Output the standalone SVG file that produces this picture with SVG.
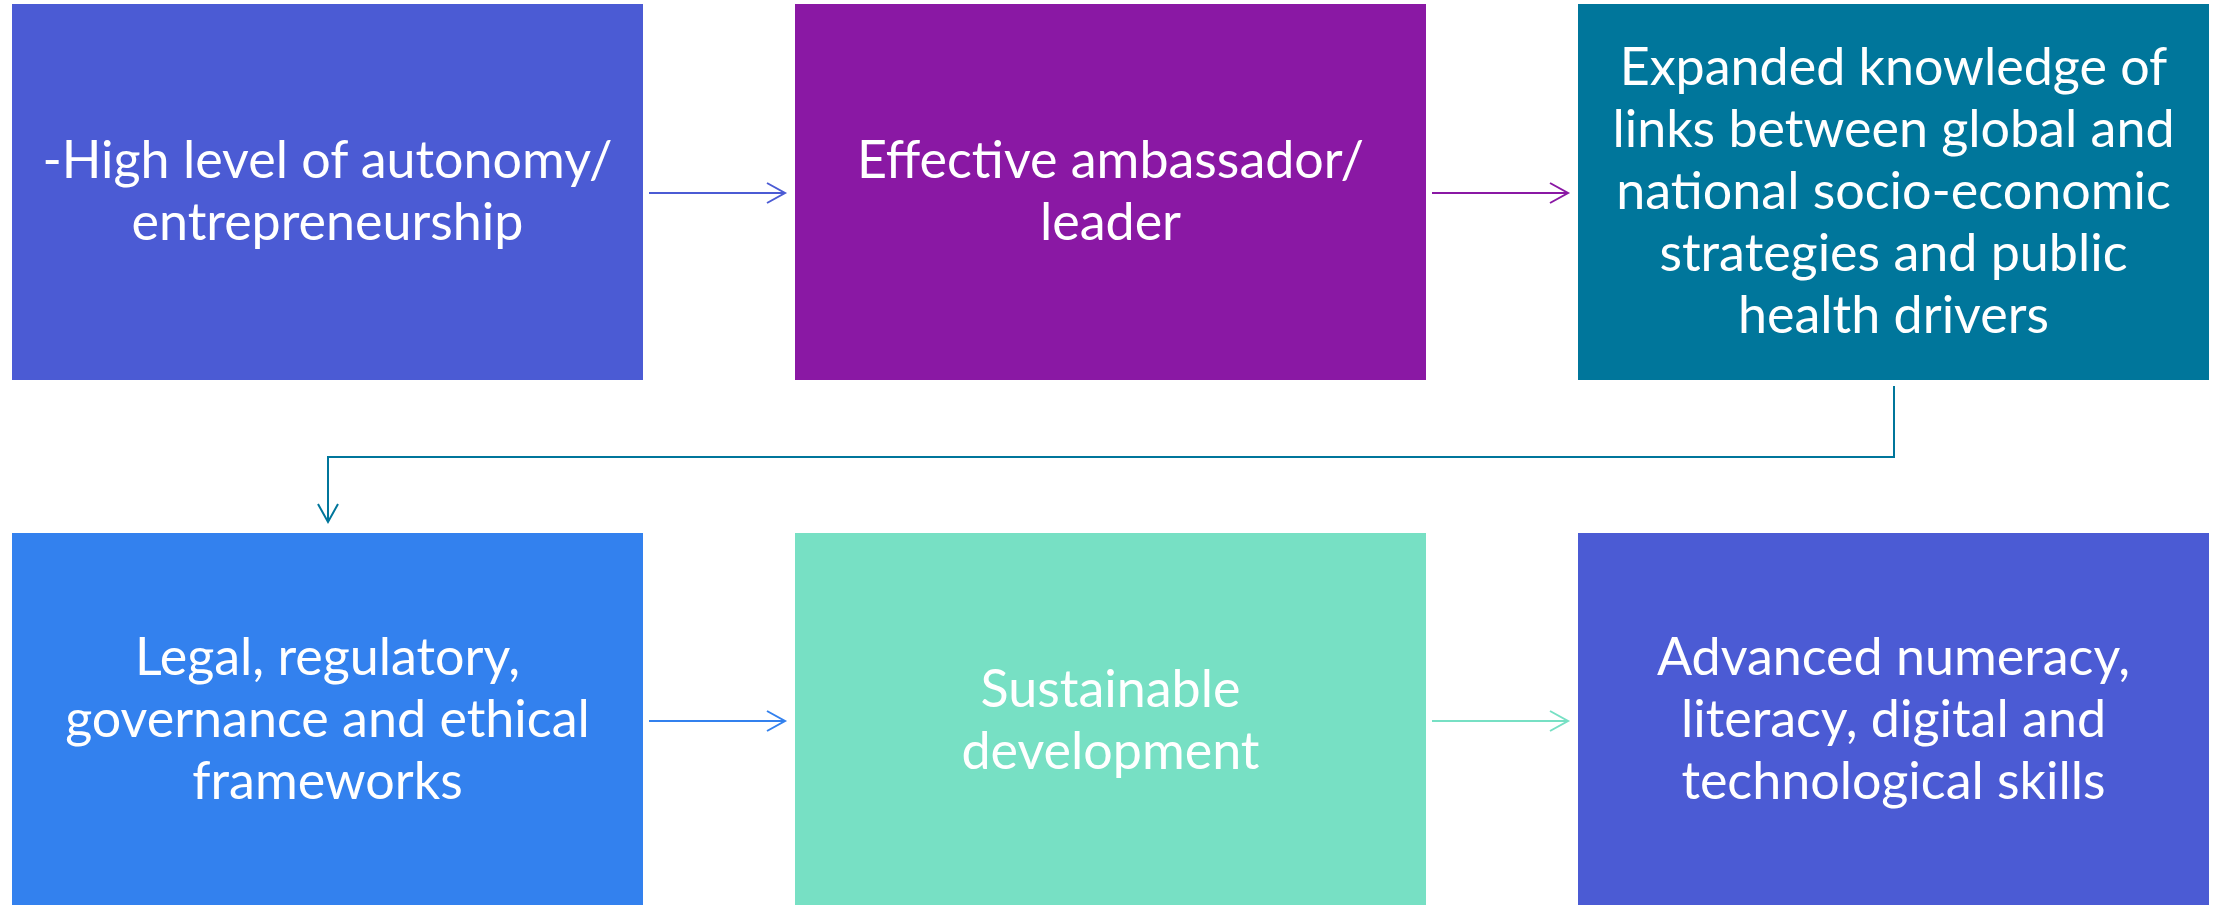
<svg xmlns="http://www.w3.org/2000/svg" width="2213" height="905" viewBox="0 0 2213 905">
<style>
.lbl{font-family:Lato,"Liberation Sans",sans-serif;font-size:52px;fill:#ffffff;text-anchor:middle}
.cn{fill:none;stroke-width:2}
</style>
<defs>
<marker id="mBlue" markerUnits="userSpaceOnUse" markerWidth="22" markerHeight="24" refX="19" refY="11" orient="auto" overflow="visible"><path d="M1,1 L19,11 L1,21" fill="none" stroke="#4B5BD4" stroke-width="2"/></marker>
<marker id="mPurple" markerUnits="userSpaceOnUse" markerWidth="22" markerHeight="24" refX="19" refY="11" orient="auto" overflow="visible"><path d="M1,1 L19,11 L1,21" fill="none" stroke="#8A18A4" stroke-width="2"/></marker>
<marker id="mTeal" markerUnits="userSpaceOnUse" markerWidth="22" markerHeight="24" refX="19" refY="11" orient="auto" overflow="visible"><path d="M1,1 L19,11 L1,21" fill="none" stroke="#00769B" stroke-width="2"/></marker>
<marker id="mSky" markerUnits="userSpaceOnUse" markerWidth="22" markerHeight="24" refX="19" refY="11" orient="auto" overflow="visible"><path d="M1,1 L19,11 L1,21" fill="none" stroke="#3381EE" stroke-width="2"/></marker>
<marker id="mMint" markerUnits="userSpaceOnUse" markerWidth="22" markerHeight="24" refX="19" refY="11" orient="auto" overflow="visible"><path d="M1,1 L19,11 L1,21" fill="none" stroke="#77E0C4" stroke-width="2"/></marker>
</defs>
<rect width="2213" height="905" fill="#ffffff"/>
<g id="n1">
<rect x="12" y="4" width="631" height="376" fill="#4B5BD4"/>
<text class="lbl" x="327.5" y="178">-High level of autonomy/</text>
<text class="lbl" x="327.5" y="240">entrepreneurship</text>
</g>
<g id="n2">
<rect x="795" y="4" width="631" height="376" fill="#8A18A4"/>
<text class="lbl" x="1110.5" y="178">Effective ambassador/</text>
<text class="lbl" x="1110.5" y="240">leader</text>
</g>
<g id="n3">
<rect x="1578" y="4" width="631" height="376" fill="#00769B"/>
<text class="lbl" x="1893.5" y="85">Expanded knowledge of</text>
<text class="lbl" x="1893.5" y="147">links between global and</text>
<text class="lbl" x="1893.5" y="209">national socio-economic</text>
<text class="lbl" x="1893.5" y="271">strategies and public</text>
<text class="lbl" x="1893.5" y="333">health drivers</text>
</g>
<g id="n4">
<rect x="12" y="533" width="631" height="372" fill="#3381EE"/>
<text class="lbl" x="327.5" y="675">Legal, regulatory,</text>
<text class="lbl" x="327.5" y="737">governance and ethical</text>
<text class="lbl" x="327.5" y="799">frameworks</text>
</g>
<g id="n5">
<rect x="795" y="533" width="631" height="372" fill="#77E0C4"/>
<text class="lbl" x="1110.5" y="707">Sustainable</text>
<text class="lbl" x="1110.5" y="769">development</text>
</g>
<g id="n6">
<rect x="1578" y="533" width="631" height="372" fill="#4B5BD4"/>
<text class="lbl" x="1893.5" y="675">Advanced numeracy,</text>
<text class="lbl" x="1893.5" y="737">literacy, digital and</text>
<text class="lbl" x="1893.5" y="799">technological skills</text>
</g>
<g id="connectors">
<path class="cn" d="M649,193 L785,193" stroke="#4B5BD4" marker-end="url(#mBlue)"/>
<path class="cn" d="M1432,193 L1568,193" stroke="#8A18A4" marker-end="url(#mPurple)"/>
<path class="cn" d="M1894,386 L1894,457 L328,457 L328,522" stroke="#00769B" marker-end="url(#mTeal)"/>
<path class="cn" d="M649,721 L785,721" stroke="#3381EE" marker-end="url(#mSky)"/>
<path class="cn" d="M1432,721 L1568,721" stroke="#77E0C4" marker-end="url(#mMint)"/>
</g>
</svg>
